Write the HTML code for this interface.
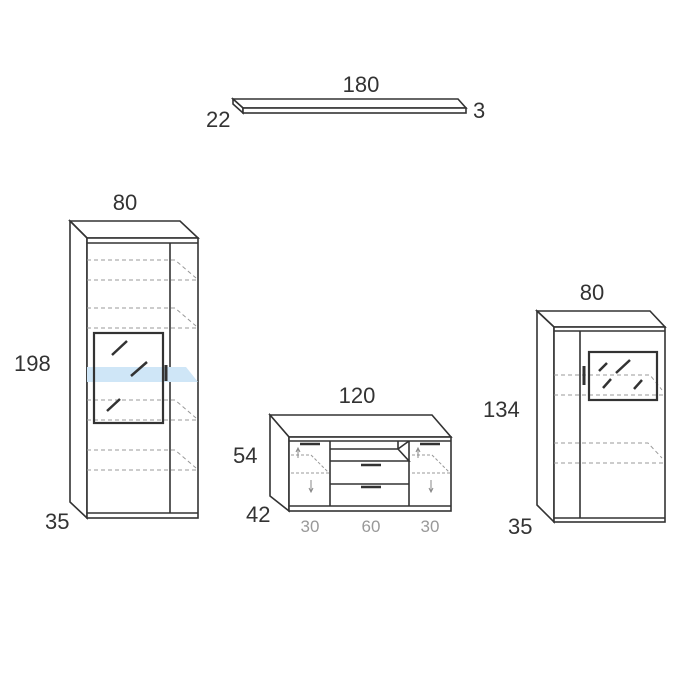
<!DOCTYPE html>
<html><head><style>body{margin:0;background:#fff}svg{display:block}text{font-family:"Liberation Sans",sans-serif;fill:#333;font-size:22px}</style></head><body>
<svg width="700" height="700" viewBox="0 0 700 700" xmlns="http://www.w3.org/2000/svg">
<g fill="none" stroke="#333" stroke-width="1.6">
<polygon points="233,99 458,99 466,108 243,108" fill="#fff"/>
<polygon points="233,99 243,108 243,113 233,104" fill="#fff"/>
<rect x="243" y="108" width="223" height="5" fill="#fff"/>
<polygon points="70,221 180,221 198,238 87,238" fill="#fff"/>
<polygon points="70,221 87,238 87,518 70,502" fill="#fff"/>
<rect x="87" y="238" width="111" height="280" fill="#fff"/>
<line x1="87" y1="243" x2="198" y2="243"/>
<line x1="87" y1="513" x2="198" y2="513"/>
<line x1="170" y1="243" x2="170" y2="513"/>
<polygon points="87,367 186,367 198,382 87,382" fill="#cfe6f7" stroke="none"/>
<g stroke="#999" stroke-dasharray="4,3" stroke-width="1">
<path d="M87,260H175L196,278M87,280H198M87,308H175L196,326M87,328H198M87,400H175L196,418M87,420H198M87,450H175L196,468M87,470H198"/>
</g>
<rect x="94" y="333" width="69" height="90" stroke-width="2.2"/>
<line x1="166" y1="365" x2="166" y2="381" stroke-width="3"/>
<path d="M112,355l15,-14M131,376l16,-14M107,411l13,-12" stroke-width="2.5"/>
<polygon points="270,415 432,415 451,437 289,437" fill="#fff"/>
<polygon points="270,415 289,437 289,511 270,496" fill="#fff"/>
<rect x="289" y="437" width="162" height="74" fill="#fff"/>
<line x1="289" y1="441" x2="451" y2="441"/>
<line x1="289" y1="506" x2="451" y2="506"/>
<line x1="330" y1="441" x2="330" y2="506"/>
<line x1="409" y1="441" x2="409" y2="506"/>
<path d="M330,449H398L409,441M398,449V441M330,461H409L398,449M330,484H409"/>
<path d="M300,444h20M420,444h20M361,465h20M361,487h20" stroke-width="2.5"/>
<g stroke="#999" stroke-dasharray="3,2" stroke-width="1">
<path d="M291,455h20l18,18M291,473h38M412,455h20l18,18M412,473h38"/>
</g>
<path d="M298,448v10M296,452l2,-4l2,4M311,480v11M309,488l2,4l2,-4M418,448v10M416,452l2,-4l2,4M431,480v11M429,488l2,4l2,-4" stroke="#888" stroke-width="1"/>
<polygon points="537,311 650,311 665,327 554,327" fill="#fff"/>
<polygon points="537,311 554,327 554,522 537,505" fill="#fff"/>
<rect x="554" y="327" width="111" height="195" fill="#fff"/>
<line x1="554" y1="331" x2="665" y2="331"/>
<line x1="554" y1="518" x2="665" y2="518"/>
<line x1="580" y1="331" x2="580" y2="518"/>
<g stroke="#999" stroke-dasharray="4,3" stroke-width="1">
<path d="M554,375H650L662,390M554,395H665M554,443H648L662,458M554,463H665"/>
</g>
<rect x="589" y="352" width="68" height="48" stroke-width="2.2"/>
<line x1="584" y1="366" x2="584" y2="385" stroke-width="3"/>
<path d="M599,371l8,-8M616,373l14,-13M603,388l8,-9M634,389l8,-9" stroke-width="2.5"/>
</g>
<text x="361" y="92" text-anchor="middle">180</text>
<text x="206" y="127">22</text>
<text x="473" y="118">3</text>
<text x="125" y="210" text-anchor="middle">80</text>
<text x="14" y="371">198</text>
<text x="45" y="529">35</text>
<text x="357" y="403" text-anchor="middle">120</text>
<text x="233" y="463">54</text>
<text x="246" y="522">42</text>
<text x="310" y="532" text-anchor="middle" style="font-size:17px;fill:#999">30</text>
<text x="371" y="532" text-anchor="middle" style="font-size:17px;fill:#999">60</text>
<text x="430" y="532" text-anchor="middle" style="font-size:17px;fill:#999">30</text>
<text x="592" y="300" text-anchor="middle">80</text>
<text x="483" y="417">134</text>
<text x="508" y="534">35</text>
</svg>
</body></html>
